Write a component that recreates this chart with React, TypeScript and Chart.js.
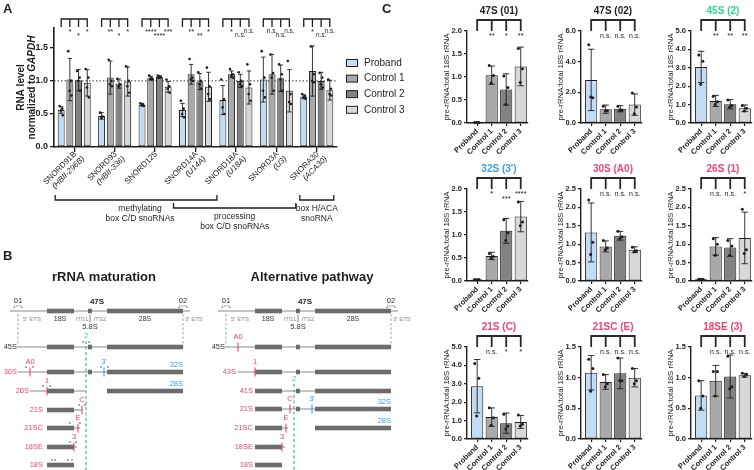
import React, { useEffect, useRef } from 'react';
import { Chart, registerables } from 'chart.js';
Chart.register(...registerables);

const FONT = '"Liberation Sans", Arial, Helvetica, sans-serif';
const INK = '#1e1e1e';
const BAR_COLORS = ['#c3dbf3', '#a9a9a9', '#828282', '#d8d8d8'];
const RED = '#ee4470';
const BLUE = '#3d9bf0';
const GREEN = '#37cf98';
const GREYTXT = '#8c8c8c';

const sampleLabels = ['Proband', 'Control 1', 'Control 2', 'Control 3'];

// ---------- Panel A : snoRNA levels ----------
const snoNames = ['SNORD91B', 'SNORD93', 'SNORD125', 'SNORD14A', 'SNORD18A', 'SNORD3A', 'SNORA30'];
const snoAliases = ['(HBII-296B)', '(HBII-336)', '', '(U14A)', '(U18A)', '(U3)', '(ACA30)'];
const snoProband = [0.56, 0.47, 0.64, 0.56, 0.71, 1.02, 0.76];
const snoControl1 = [1.02, 1.05, 1.04, 1.10, 1.10, 1.10, 1.15];
const snoControl2 = [1.01, 0.96, 1.06, 0.99, 1.00, 1.04, 1.00];
const snoControl3 = [0.97, 0.99, 0.91, 0.91, 0.90, 0.85, 0.86];
const snoSdProband = [0.05, 0.05, 0.02, 0.10, 0.22, 0.34, 0.03];
const snoSdControl1 = [0.32, 0.25, 0.03, 0.15, 0.05, 0.30, 0.38];
const snoSdControl2 = [0.16, 0.07, 0.02, 0.12, 0.10, 0.20, 0.13];
const snoSdControl3 = [0.20, 0.22, 0.08, 0.22, 0.25, 0.32, 0.15];
const snoDotsProband = [[0.62, 0.58, 0.55, 0.48], [0.52, 0.46, 0.44], [0.66, 0.64, 0.63, 0.62], [0.70, 0.58, 0.50, 0.45], [1.02, 0.72, 0.60, 0.50], [1.45, 1.05, 0.85, 0.75], [0.80, 0.77, 0.75, 0.73]];
const snoDotsControl1 = [[1.45, 1.00, 0.85, 0.78], [1.32, 1.00, 0.95, 0.92], [1.08, 1.04, 1.03, 1.02], [1.33, 1.05, 1.02, 1.00], [1.18, 1.10, 1.08, 1.05], [1.40, 1.12, 1.05, 0.85], [1.52, 1.10, 1.00, 0.98]];
const snoDotsControl2 = [[1.15, 1.05, 1.00, 0.85], [1.03, 0.95, 0.92], [1.08, 1.06, 1.05], [1.13, 1.00, 0.95, 0.88], [1.13, 1.00, 0.95, 0.92], [1.25, 1.10, 1.02, 0.85], [1.12, 1.05, 0.95, 0.90]];
const snoDotsControl3 = [[1.18, 1.05, 0.90, 0.75], [1.22, 1.00, 0.92, 0.82], [1.02, 0.92, 0.88, 0.82], [1.20, 0.92, 0.80, 0.72], [1.25, 0.95, 0.80, 0.70], [1.30, 0.80, 0.68, 0.65], [1.02, 0.88, 0.80, 0.78]];
const snoSig = [['*', '*', '*'], ['**', '*', '*'], ['****', '****', '***'], ['**', '**', '*'], ['*', 'n.s.', 'n.s.'], ['n.s.', 'n.s.', 'n.s.'], ['*', 'n.s.', 'n.s.']];
const snoYTicks = [0, 0.5, 1.0, 1.5];
const snoYMax = 1.8;
const snoClassLines = [['methylating', 'box C/D snoRNAs'], ['processing', 'box C/D snoRNAs'], ['box H/ACA', 'snoRNA']];
const snoClassFirst = [0, 3, 6];
const snoClassLast = [4, 6, 6];

// ---------- Panel C : pre-rRNA levels ----------
const preTitles = ['47S (01)', '47S (02)', '45S (2)', "32S (3')", '30S (A0)', '26S (1)', '21S (C)', '21SC (E)', '18SE (3)'];
const preProband = [0.01, 2.81, 3.05, 0.03, 1.32, 0.05, 2.87, 1.08, 0.71];
const preControl1 = [1.04, 0.90, 1.20, 0.545, 0.94, 0.94, 1.19, 0.93, 0.95];
const preControl2 = [0.73, 0.93, 1.02, 1.09, 1.23, 0.91, 0.86, 1.07, 1.02];
const preControl3 = [1.23, 1.20, 0.80, 1.40, 0.85, 1.17, 0.93, 1.00, 1.04];
const preSdProband = [0.005, 2.0, 0.85, 0.01, 0.80, 0.01, 1.45, 0.28, 0.24];
const preSdControl1 = [0.20, 0.27, 0.30, 0.08, 0.15, 0.24, 0.50, 0.12, 0.25];
const preSdControl2 = [0.34, 0.20, 0.25, 0.27, 0.12, 0.24, 0.55, 0.25, 0.35];
const preSdControl3 = [0.42, 0.70, 0.18, 0.33, 0.08, 0.70, 0.35, 0.15, 0.03];
const prePtsProband = [[0.01, 0.01, 0.01], [5.1, 1.65, 1.7], [3.7, 3.35, 2.1], [0.03, 0.03, 0.02], [2.2, 1.05, 0.72], [0.05, 0.05, 0.04], [4.1, 3.3, 1.25], [1.3, 1.15, 0.78], [0.95, 0.7, 0.5]];
const prePtsControl1 = [[1.25, 1.03, 0.87], [1.1, 0.8, 0.8], [1.45, 1.15, 1.0], [0.6, 0.53, 0.5], [1.1, 0.9, 0.85], [1.15, 1.0, 0.7], [1.7, 1.15, 0.75], [1.05, 0.9, 0.85], [1.1, 1.1, 0.7]];
const prePtsControl2 = [[1.02, 0.77, 0.4], [1.1, 0.85, 0.85], [1.25, 0.95, 0.85], [1.33, 1.05, 0.88], [1.35, 1.2, 1.15], [1.1, 0.95, 0.7], [1.35, 0.7, 0.55], [1.32, 0.95, 0.95], [1.35, 0.85, 0.82]];
const prePtsControl3 = [[1.62, 1.18, 0.88], [1.95, 1.05, 0.6], [0.95, 0.8, 0.65], [1.72, 1.28, 1.2], [0.92, 0.82, 0.8], [1.95, 0.85, 0.75], [1.3, 0.8, 0.7], [1.15, 0.95, 0.9], [1.07, 1.05, 1.02]];
const preSig = [['**', '*', '**'], ['n.s.', 'n.s.', 'n.s.'], ['**', '**', '**'], ['*', '***', '****'], ['n.s.', 'n.s.', 'n.s.'], ['n.s.', 'n.s.', '*'], ['n.s.', '*', '*'], ['n.s.', 'n.s.', 'n.s.'], ['n.s.', 'n.s.', 'n.s.']];
const preYMax = [2, 6, 5, 2, 2.5, 2.5, 5, 1.5, 1.5];
const preYStep = [0.5, 2, 1, 0.5, 0.5, 0.5, 1, 0.5, 0.5];
const preTitleColors = [INK, INK, GREEN, BLUE, RED, RED, RED, RED, RED];

// ---------- Panel B : processing schemes (schematic units along the 47S) ----------
const rrnaBlockStart = [37, 78, 97];
const rrnaBlockEnd = [64, 82, 173];
const rrnaFull = [0, 180];
const rrnaSubLabels = ["5' ETS", '18S', 'ITS1', 'ITS2', '28S', "3' ETS"];
const rrnaSubPos = [22, 50, 72, 90, 135, 184];
const rrnaSubDark = [false, true, false, false, true, false];

const matLabels = ['45S', '30S', '26S', '21S', '21SC', '18SE', '18S'];
const matLevels = [107, 132, 151, 170, 188, 207, 225];
const matSpans = [[8, 173], [8, 173], [20, 76], [64, 72], [64, 70], [64, 67], null];
const matBlocks = [[0, 1, 2], [0, 1, 2], [0, 2], [0], [0], [0], [0]];
const matSites = [[], [['A0', 20, 'r'], ["3'", 94, 'b']], [['1', 37, 'r']], [['C', 72, 'r']], [['E', 68, 'r']], [['3', 64, 'r']], []];
const matLabelEnd = [7, 7, 19, 33, 33, 33, 33];
const matTags = [[], ['32S'], ['28S'], [], [], [], []];
const matProbes = [[73, 79], [16, 23, 91, 98], [33, 40], [69, 75], [60, 70], [60, 66], [42, 45, 58, 62]];

const altLabels = ['45S', '43S', '41S', '21S', '21SC', '18SE', '18S'];
const altLevels = [107, 132, 151, 169, 188, 207, 225];
const altSpans = [[8, 173], [20, 173], [37, 173], [64, 173], [64, 70], [64, 67], null];
const altBlocks = [[0, 1, 2], [0, 1, 2], [0, 1, 2], [0, 1, 2], [0, 2], [0], [0]];
const altSites = [[['A0', 20, 'r']], [['1', 37, 'r']], [], [['C', 72, 'r'], ["3'", 94, 'b']], [['E', 68, 'r']], [['3', 64, 'r']], []];
const altLabelEnd = [7, 18, 35, 35, 35, 35, 35];
const altTags = [[], [], [], ['32S'], ['28S'], [], []];

const f = (size, weight = 'normal', style = 'normal') => `${style} ${weight} ${size}px ${FONT}`;

function errorBar(ctx, x, yTop, yBot, cap) {
  ctx.beginPath();
  ctx.moveTo(x, yTop); ctx.lineTo(x, yBot);
  ctx.moveTo(x - cap, yTop); ctx.lineTo(x + cap, yTop);
  ctx.moveTo(x - cap, yBot); ctx.lineTo(x + cap, yBot);
  ctx.stroke();
}
const JIT = [-1.0, 0.7, -0.2, 1.0];

function makePanelA() {
  const means = [snoProband, snoControl1, snoControl2, snoControl3];
  const sds = [snoSdProband, snoSdControl1, snoSdControl2, snoSdControl3];
  const dots = [snoDotsProband, snoDotsControl1, snoDotsControl2, snoDotsControl3];
  const plugin = {
    id: 'panelA',
    beforeDatasetsDraw(chart) {
      const { ctx, chartArea, scales } = chart;
      const yy = scales.y.getPixelForValue(1);
      ctx.save();
      ctx.setLineDash([1.5, 2]);
      ctx.strokeStyle = '#333';
      ctx.lineWidth = 1;
      ctx.beginPath(); ctx.moveTo(chartArea.left, yy); ctx.lineTo(chartArea.right, yy); ctx.stroke();
      ctx.restore();
    },
    afterDatasetsDraw(chart) {
      const { ctx, scales } = chart;
      const y = scales.y;
      ctx.save();
      ctx.strokeStyle = INK; ctx.fillStyle = INK; ctx.lineWidth = 0.9;
      means.forEach((series, di) => {
        const meta = chart.getDatasetMeta(di);
        meta.data.forEach((bar, gi) => {
          const m = series[gi], sd = sds[di][gi];
          errorBar(ctx, bar.x, y.getPixelForValue(m + sd), y.getPixelForValue(Math.max(0, m - sd)), 2.2);
          dots[di][gi].forEach((v, j) => {
            ctx.beginPath();
            ctx.arc(bar.x + JIT[j % 4] * 1.6, y.getPixelForValue(v), 1.3, 0, Math.PI * 2);
            ctx.fill();
          });
        });
      });
      ctx.restore();
    },
    afterDraw(chart) {
      const { ctx, scales, chartArea } = chart;
      const x = scales.x;
      const metas = [0, 1, 2, 3].map((i) => chart.getDatasetMeta(i));
      ctx.save();
      ctx.fillStyle = INK; ctx.strokeStyle = INK;
      ctx.font = f(13, 'bold'); ctx.textBaseline = 'middle'; ctx.textAlign = 'left';
      ctx.fillText('A', 3, 9);
      ctx.fillText('C', 382, 9);
      const cy = (chartArea.top + chartArea.bottom) / 2;
      ctx.save();
      ctx.translate(21, cy); ctx.rotate(-Math.PI / 2);
      ctx.textAlign = 'center'; ctx.font = f(10, 'bold');
      ctx.fillText('RNA level', 0, 0);
      ctx.restore();
      ctx.save();
      ctx.translate(32, cy); ctx.rotate(-Math.PI / 2);
      ctx.textAlign = 'left';
      ctx.font = f(10, 'bold');
      const p1 = 'normalized to ';
      const w1 = ctx.measureText(p1).width;
      ctx.font = f(10, 'bold', 'italic');
      const w2 = ctx.measureText('GAPDH').width;
      const sx = -(w1 + w2) / 2;
      ctx.font = f(10, 'bold');
      ctx.fillText(p1, sx, 0);
      ctx.font = f(10, 'bold', 'italic');
      ctx.fillText('GAPDH', sx + w1, 0);
      ctx.restore();
      const bTop = chartArea.top - 9, bEnd = chartArea.top - 1;
      snoNames.forEach((_, gi) => {
        const xs = metas.map((m) => m.data[gi].x);
        ctx.lineWidth = 1.3;
        ctx.beginPath();
        ctx.moveTo(xs[0] - 0.6, bTop); ctx.lineTo(xs[3] + 0.6, bTop);
        xs.forEach((xx) => { ctx.moveTo(xx, bTop); ctx.lineTo(xx, bEnd); });
        ctx.stroke();
        ctx.textAlign = 'center'; ctx.textBaseline = 'top';
        snoSig[gi].forEach((s, k) => {
          ctx.font = s === 'n.s.' ? f(6.5) : f(7.5);
          ctx.fillText(s, xs[k + 1], bEnd + (k === 1 ? 5 : 1));
        });
      });
      snoNames.forEach((name, gi) => {
        const cx = x.getPixelForValue(gi);
        ctx.save();
        ctx.translate(cx + 1, chartArea.bottom + 6);
        ctx.rotate(-Math.PI / 4);
        ctx.textAlign = 'right'; ctx.textBaseline = 'middle';
        ctx.font = f(8);
        ctx.fillText(name, 0, 0);
        if (snoAliases[gi]) {
          ctx.font = f(8, 'normal', 'italic');
          ctx.fillText(snoAliases[gi], 2.5, 9);
        }
        ctx.restore();
      });
      const cls = [
        { l: -19, r: -19, y: 200 },
        { l: -22, r: -21, y: 208 },
        { l: -17, r: 17, y: 200 },
      ];
      snoClassLines.forEach((lines, ci) => {
        const x0 = x.getPixelForValue(snoClassFirst[ci]) + cls[ci].l;
        const x1 = x.getPixelForValue(snoClassLast[ci]) + cls[ci].r;
        const by = cls[ci].y;
        ctx.lineWidth = 1.3;
        ctx.beginPath();
        ctx.moveTo(x0, by - 5); ctx.lineTo(x0, by); ctx.lineTo(x1, by); ctx.lineTo(x1, by - 5);
        ctx.stroke();
        ctx.font = f(8.5); ctx.textAlign = 'center'; ctx.textBaseline = 'middle';
        const mx = (x0 + x1) / 2 + (ci === 0 ? 4 : 0);
        ctx.fillText(lines[0], mx, by + 9);
        ctx.fillText(lines[1], mx, by + 19);
      });
      sampleLabels.forEach((lab, i) => {
        const ly = 63 + i * 15.6;
        ctx.fillStyle = BAR_COLORS[i];
        ctx.fillRect(346, ly - 3.5, 11, 7);
        ctx.lineWidth = 1;
        ctx.strokeRect(346.5, ly - 3.5, 11, 7);
        ctx.fillStyle = INK;
        ctx.font = f(10); ctx.textAlign = 'left'; ctx.textBaseline = 'middle';
        ctx.fillText(lab, 364, ly);
      });
      ctx.restore();
    },
  };
  return {
    type: 'bar',
    data: {
      labels: snoNames,
      datasets: means.map((d, i) => ({
        label: sampleLabels[i], data: d, backgroundColor: BAR_COLORS[i], borderColor: INK,
        borderWidth: 1, borderSkipped: false, barPercentage: 0.8, categoryPercentage: 0.86,
      })),
    },
    options: {
      responsive: false, animation: false, devicePixelRatio: 1,
      layout: { padding: { left: 0, top: 28, right: 103, bottom: 0 } },
      plugins: { legend: { display: false }, tooltip: { enabled: false } },
      scales: {
        x: {
          grid: { display: true, drawOnChartArea: false, drawTicks: true, tickLength: 5, offset: false, color: INK, lineWidth: 1.3 },
          border: { display: true, color: INK, width: 1.6 },
          ticks: { display: false },
          afterFit: (s) => { s.height = 93; s.paddingLeft = 0; s.paddingRight = 0; },
        },
        y: {
          min: 0, max: snoYMax,
          afterBuildTicks: (s) => { s.ticks = snoYTicks.map((v) => ({ value: v })); },
          ticks: { callback: (v) => Number(v).toFixed(1), font: { family: FONT, size: 9, weight: 'bold' }, color: INK, padding: 2 },
          grid: { display: true, drawOnChartArea: false, tickLength: 4, color: INK, lineWidth: 1.3 },
          border: { display: true, color: INK, width: 1.6 },
          afterFit: (s) => { s.width = 54; },
        },
      },
    },
    plugins: [plugin],
  };
}

function makePanelC(i) {
  const means = [preProband[i], preControl1[i], preControl2[i], preControl3[i]];
  const sds = [preSdProband[i], preSdControl1[i], preSdControl2[i], preSdControl3[i]];
  const pts = [prePtsProband[i], prePtsControl1[i], prePtsControl2[i], prePtsControl3[i]];
  const plugin = {
    id: 'panelC' + i,
    afterDatasetsDraw(chart) {
      const { ctx, scales } = chart;
      const y = scales.y;
      const meta = chart.getDatasetMeta(0);
      ctx.save();
      ctx.strokeStyle = INK; ctx.fillStyle = INK; ctx.lineWidth = 0.9;
      meta.data.forEach((bar, k) => {
        const m = means[k], sd = sds[k];
        errorBar(ctx, bar.x, y.getPixelForValue(m + sd), y.getPixelForValue(Math.max(0, m - sd)), 3.2);
        pts[k].forEach((v, j) => {
          ctx.beginPath();
          ctx.arc(bar.x + JIT[j % 4] * 2.4, y.getPixelForValue(v), 1.5, 0, Math.PI * 2);
          ctx.fill();
        });
      });
      ctx.restore();
    },
    afterDraw(chart) {
      const { ctx, scales, chartArea } = chart;
      const x = scales.x;
      const xs = [0, 1, 2, 3].map((k) => x.getPixelForValue(k));
      ctx.save();
      ctx.fillStyle = preTitleColors[i];
      ctx.font = f(10, 'bold'); ctx.textAlign = 'center'; ctx.textBaseline = 'middle';
      ctx.fillText(preTitles[i], x.getPixelForValue(1.5), chartArea.top - 20);
      ctx.strokeStyle = '#2a2a2a'; ctx.lineWidth = 1.8;
      const bTop = chartArea.top - 11, bEnd = chartArea.top;
      ctx.beginPath();
      ctx.moveTo(xs[0] - 0.9, bTop); ctx.lineTo(xs[3] + 0.9, bTop);
      xs.forEach((xx) => { ctx.moveTo(xx, bTop); ctx.lineTo(xx, bEnd); });
      ctx.stroke();
      ctx.fillStyle = INK; ctx.textBaseline = 'top';
      preSig[i].forEach((s, k) => {
        const lower = k === 1 && s.length >= 3 && s !== 'n.s.';
        ctx.font = s === 'n.s.' ? f(7) : f(7.5);
        ctx.fillText(s, xs[k + 1], bEnd + (lower ? 6 : 1.5));
      });
      ctx.restore();
    },
  };
  return {
    type: 'bar',
    data: {
      datasets: [{
        data: means.map((m, k) => ({ x: k, y: m })),
        backgroundColor: BAR_COLORS, borderColor: INK, borderWidth: 1, borderSkipped: false,
        barPercentage: 0.84, categoryPercentage: 1,
      }],
    },
    options: {
      responsive: false, animation: false, devicePixelRatio: 1,
      layout: { padding: { left: 0, top: 31, right: 5, bottom: 0 } },
      plugins: { legend: { display: false }, tooltip: { enabled: false } },
      scales: {
        x: {
          type: 'linear', min: -0.7, max: 3.5, offset: false,
          afterBuildTicks: (s) => { s.ticks = [0, 1, 2, 3].map((v) => ({ value: v })); },
          ticks: { autoSkip: false, maxRotation: 45, minRotation: 45, callback: (v) => sampleLabels[v], font: { family: FONT, size: 7.5, weight: 'bold' }, color: INK, padding: 1 },
          grid: { display: true, drawOnChartArea: false, tickLength: 3, color: INK, lineWidth: 1.2, offset: false },
          border: { display: true, color: INK, width: 1.4 },
          afterFit: (s) => { s.height = 35; s.paddingLeft = 0; s.paddingRight = 0; },
        },
        y: {
          min: 0, max: preYMax[i],
          ticks: { stepSize: preYStep[i], callback: (v) => Number(v).toFixed(1), font: { family: FONT, size: 7.5, weight: 'bold' }, color: INK, padding: 2 },
          grid: { display: true, drawOnChartArea: false, tickLength: 3, color: INK, lineWidth: 1.2 },
          border: { display: true, color: INK, width: 1.4 },
          title: { display: true, text: 'pre-rRNA:total 18S rRNA', font: { family: FONT, size: 7.8 }, color: INK, padding: { top: 2, bottom: 0 } },
          afterFit: (s) => { s.width = 27; s.paddingTop = 0; s.paddingBottom = 0; },
        },
      },
    },
    plugins: [plugin],
  };
}

function makePanelB() {
  const schemes = [
    { off: 0, title: 'rRNA maturation', labels: matLabels, levels: matLevels, spans: matSpans, blocks: matBlocks, sites: matSites, labelEnd: matLabelEnd, tags: matTags, probes: matProbes, greenLevel: 97 },
    { off: 208, title: 'Alternative pathway', labels: altLabels, levels: altLevels, spans: altSpans, blocks: altBlocks, sites: altSites, labelEnd: altLabelEnd, tags: altTags, probes: null, greenLevel: 140 },
  ];
  const probeEnds = [8, 173];
  const plugin = {
    id: 'panelB',
    afterDraw(chart) {
      const { ctx, scales } = chart;
      const X = (u) => scales.x.getPixelForValue(u);
      const Y = (v) => scales.y.getPixelForValue(v);
      ctx.save();
      ctx.fillStyle = INK;
      ctx.font = f(13, 'bold'); ctx.textAlign = 'left'; ctx.textBaseline = 'middle';
      ctx.fillText('B', 3, Y(16));
      const drawRna = (off, level, span, blocks) => {
        if (span) {
          ctx.strokeStyle = '#8a8a8a'; ctx.lineWidth = 1.1;
          ctx.beginPath(); ctx.moveTo(X(span[0] + off), Y(level)); ctx.lineTo(X(span[1] + off), Y(level)); ctx.stroke();
        }
        ctx.fillStyle = '#6c6c6c';
        blocks.forEach((b) => {
          const x0 = X(rrnaBlockStart[b] + off), x1 = X(rrnaBlockEnd[b] + off);
          ctx.fillRect(x0, Y(level) - 2.3, x1 - x0, 4.6);
        });
      };
      schemes.forEach((sc) => {
        const o = sc.off;
        ctx.fillStyle = INK; ctx.font = f(13, 'bold'); ctx.textAlign = 'center'; ctx.textBaseline = 'middle';
        ctx.fillText(sc.title, X(94 + o), Y(37));
        const hl = 71;
        drawRna(o, hl, rrnaFull, [0, 1, 2]);
        ctx.fillStyle = INK; ctx.font = f(8, 'bold'); ctx.textAlign = 'center';
        ctx.fillText('47S', X(87 + o), Y(hl - 9));
        ctx.font = f(7.5);
        ctx.fillText('01', X(probeEnds[0] + o), Y(hl - 10));
        ctx.fillText('02', X(probeEnds[1] + o), Y(hl - 10));
        ctx.strokeStyle = INK; ctx.lineWidth = 0.8; ctx.setLineDash([1, 1.2]);
        probeEnds.forEach((d) => {
          ctx.beginPath();
          ctx.moveTo(X(d - 4 + o), Y(hl - 3)); ctx.lineTo(X(d - 4 + o), Y(hl - 5)); ctx.lineTo(X(d + 4 + o), Y(hl - 5)); ctx.lineTo(X(d + 4 + o), Y(hl - 3));
          ctx.stroke();
        });
        ctx.strokeStyle = '#9a9a9a'; ctx.lineWidth = 0.9; ctx.setLineDash([2.5, 2]);
        probeEnds.forEach((d) => {
          ctx.beginPath(); ctx.moveTo(X(d + o), Y(hl + 3)); ctx.lineTo(X(d + o), Y(sc.levels[0])); ctx.stroke();
        });
        ctx.setLineDash([]);
        rrnaSubLabels.forEach((t, k) => {
          ctx.fillStyle = rrnaSubDark[k] ? '#333' : GREYTXT;
          ctx.font = rrnaSubDark[k] ? f(7) : f(6);
          ctx.textAlign = k === 5 ? 'left' : 'center';
          ctx.fillText(t, X(rrnaSubPos[k] + o - (k === 5 ? 9 : 0)), Y(hl + 8));
        });
        ctx.fillStyle = '#333'; ctx.font = f(7.5); ctx.textAlign = 'center';
        ctx.fillText('5.8S', X(80 + o), Y(hl + 16));
        ctx.strokeStyle = '#555'; ctx.lineWidth = 0.8;
        ctx.beginPath(); ctx.moveTo(X(80 + o), Y(hl + 4)); ctx.lineTo(X(80 + o), Y(hl + 11)); ctx.stroke();
        ctx.strokeStyle = GREEN; ctx.lineWidth = 1.3; ctx.setLineDash([3, 2.5]);
        ctx.beginPath(); ctx.moveTo(X(76 + o), Y(sc.greenLevel + 4)); ctx.lineTo(X(76 + o), Y(230)); ctx.stroke();
        ctx.setLineDash([]);
        ctx.fillStyle = GREEN; ctx.font = f(7.5); ctx.textAlign = 'center';
        ctx.fillText('2', X(76 + o), Y(sc.greenLevel - 1));
        sc.labels.forEach((lab, r) => {
          const lv = sc.levels[r];
          drawRna(o, lv, sc.spans[r], sc.blocks[r]);
          ctx.fillStyle = lab === '45S' ? '#333' : RED;
          ctx.font = f(7.5); ctx.textAlign = 'right'; ctx.textBaseline = 'middle';
          ctx.fillText(lab, X(sc.labelEnd[r] + o), Y(lv));
          sc.sites[r].forEach(([name, pos, col]) => {
            const c = col === 'r' ? RED : BLUE;
            ctx.strokeStyle = c; ctx.lineWidth = 1.1;
            ctx.beginPath(); ctx.moveTo(X(pos + o), Y(lv - 4.5)); ctx.lineTo(X(pos + o), Y(lv + 4.5)); ctx.stroke();
            ctx.fillStyle = c; ctx.font = f(7.5); ctx.textAlign = 'center';
            ctx.fillText(name, X(pos + o), Y(lv - 10));
          });
          sc.tags[r].forEach((t) => {
            ctx.fillStyle = BLUE; ctx.font = f(7.5); ctx.textAlign = 'right';
            ctx.fillText(t, X(173 + o), Y(lv - 7));
          });
          if (sc.probes) {
            ctx.fillStyle = INK;
            sc.probes[r].forEach((p) => {
              ctx.beginPath(); ctx.arc(X(p + o), Y(lv - 5), 0.7, 0, Math.PI * 2); ctx.fill();
            });
          }
        });
      });
      ctx.restore();
    },
  };
  return {
    type: 'scatter',
    data: { datasets: [] },
    options: {
      responsive: false, animation: false, devicePixelRatio: 1,
      layout: { padding: 0 },
      plugins: { legend: { display: false }, tooltip: { enabled: false } },
      scales: {
        x: { type: 'linear', min: -10, max: 410, display: false },
        y: { type: 'linear', min: 0, max: 230, reverse: true, display: false },
      },
    },
    plugins: [plugin],
  };
}

function ChartBox({ left, top, width, height, make }) {
  const ref = useRef(null);
  useEffect(() => {
    const chart = new Chart(ref.current, make());
    return () => chart.destroy();
  }, []);
  return <canvas ref={ref} width={width} height={height} style={{ position: 'absolute', left, top, width, height }} />;
}

const C_AXIS_X = [467, 581, 691];
const C_ROW_TOP = [0, 158, 316];

export default function App() {
  return (
    <div style={{ position: 'fixed', left: 0, top: 0, width: 754, height: 470, background: '#fff', overflow: 'hidden' }}>
      <ChartBox left={0} top={240} width={420} height={230} make={makePanelB} />
      <ChartBox left={0} top={0} width={440} height={240} make={makePanelA} />
      {preTitles.map((t, i) => (
        <ChartBox key={t} left={C_AXIS_X[i % 3] - 27} top={C_ROW_TOP[Math.floor(i / 3)]} width={93} height={158} make={() => makePanelC(i)} />
      ))}
    </div>
  );
}
